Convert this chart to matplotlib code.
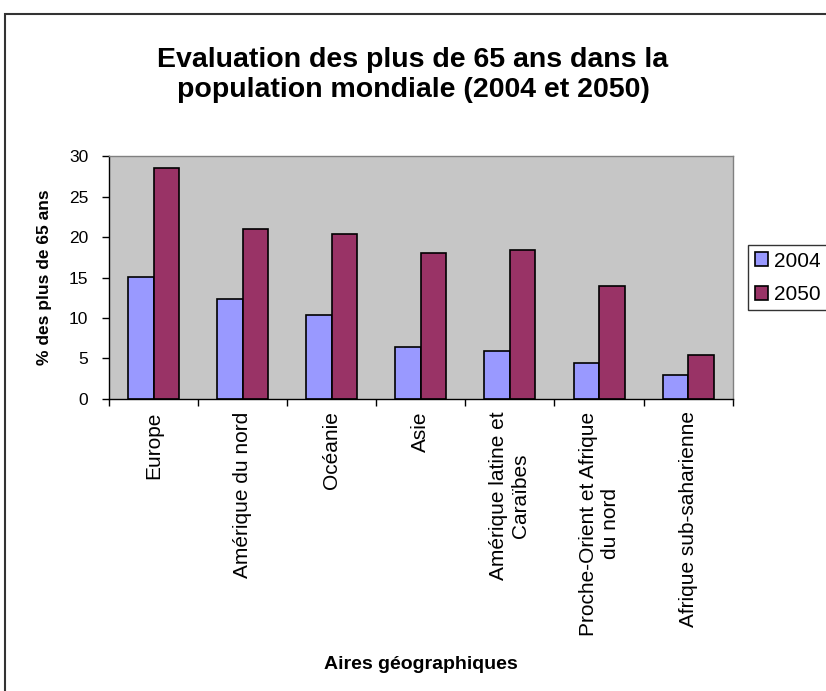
import numpy as np
import matplotlib.pyplot as plt
from matplotlib.patches import Rectangle

plt.rcParams['font.family'] = ['Liberation Sans', 'DejaVu Sans']

regions = ['Europe', 'Amérique du nord', 'Océanie', 'Asie',
           'Amérique latine et\nCaraïbes', 'Proche-Orient et Afrique\ndu nord',
           'Afrique sub-saharienne']
val_2004 = [15.1, 12.3, 10.4, 6.4, 5.9, 4.5, 2.9]
val_2050 = [28.5, 21.0, 20.4, 18.0, 18.4, 13.9, 5.4]
years = ['2004', '2050']
colors = ['#9999ff', '#993366']

fig = plt.figure(figsize=(8.26, 6.91), dpi=100)
ax = fig.add_axes([0.132, 0.4226, 0.755, 0.3516])

x = np.arange(len(regions))
w = 0.286
ax.bar(x - w / 2, val_2004, w, color=colors[0], edgecolor='black', linewidth=1.2, label=years[0])
ax.bar(x + w / 2, val_2050, w, color=colors[1], edgecolor='black', linewidth=1.2, label=years[1])

ax.set_facecolor('#c6c6c6')
ax.set_xlim(-0.5, len(regions) - 0.5)
ax.set_ylim(0, 30)
ax.set_yticks(range(0, 31, 5))
ax.tick_params(axis='y', labelsize=12.5, length=5, width=1, direction='out', pad=10)

ax.set_xticks(x)
ax.set_xticklabels(regions, rotation=90, fontsize=15, multialignment='center')
ax.set_xticks(np.arange(-0.5, len(regions), 1), minor=True)
ax.tick_params(axis='x', which='major', length=0, pad=9)
ax.tick_params(axis='x', which='minor', length=5, width=1, direction='out')

for s in ['top', 'right']:
    ax.spines[s].set_color('#808080')
    ax.spines[s].set_linewidth(1)
ax.spines['left'].set_linewidth(1)
ax.spines['bottom'].set_linewidth(1)

ax.set_ylabel('% des plus de 65 ans', fontsize=12.5, fontweight='bold', labelpad=12)
fig.text(0.509, 0.038, 'Aires géographiques', fontsize=14, fontweight='bold', ha='center', va='center')

fig.text(0.5, 0.891, 'Evaluation des plus de 65 ans dans la\npopulation mondiale (2004 et 2050)',
         fontsize=20.5, fontweight='bold', ha='center', va='center', linespacing=1.2)

leg = ax.legend(loc='upper left', bbox_to_anchor=(0.906, 0.645), bbox_transform=fig.transFigure,
                fontsize=15, frameon=True, fancybox=False, edgecolor='black',
                handlelength=0.62, handleheight=0.62, handletextpad=0.3, borderpad=0.3,
                labelspacing=0.7, borderaxespad=0)
leg.get_frame().set_linewidth(1)

fig.patches.append(Rectangle((5 / 826, -0.1), 1.2, 1 - 14 / 691 + 0.1, transform=fig.transFigure,
                             fill=False, edgecolor='#333333', linewidth=1.5))

fig.savefig('out.png', dpi=100)
